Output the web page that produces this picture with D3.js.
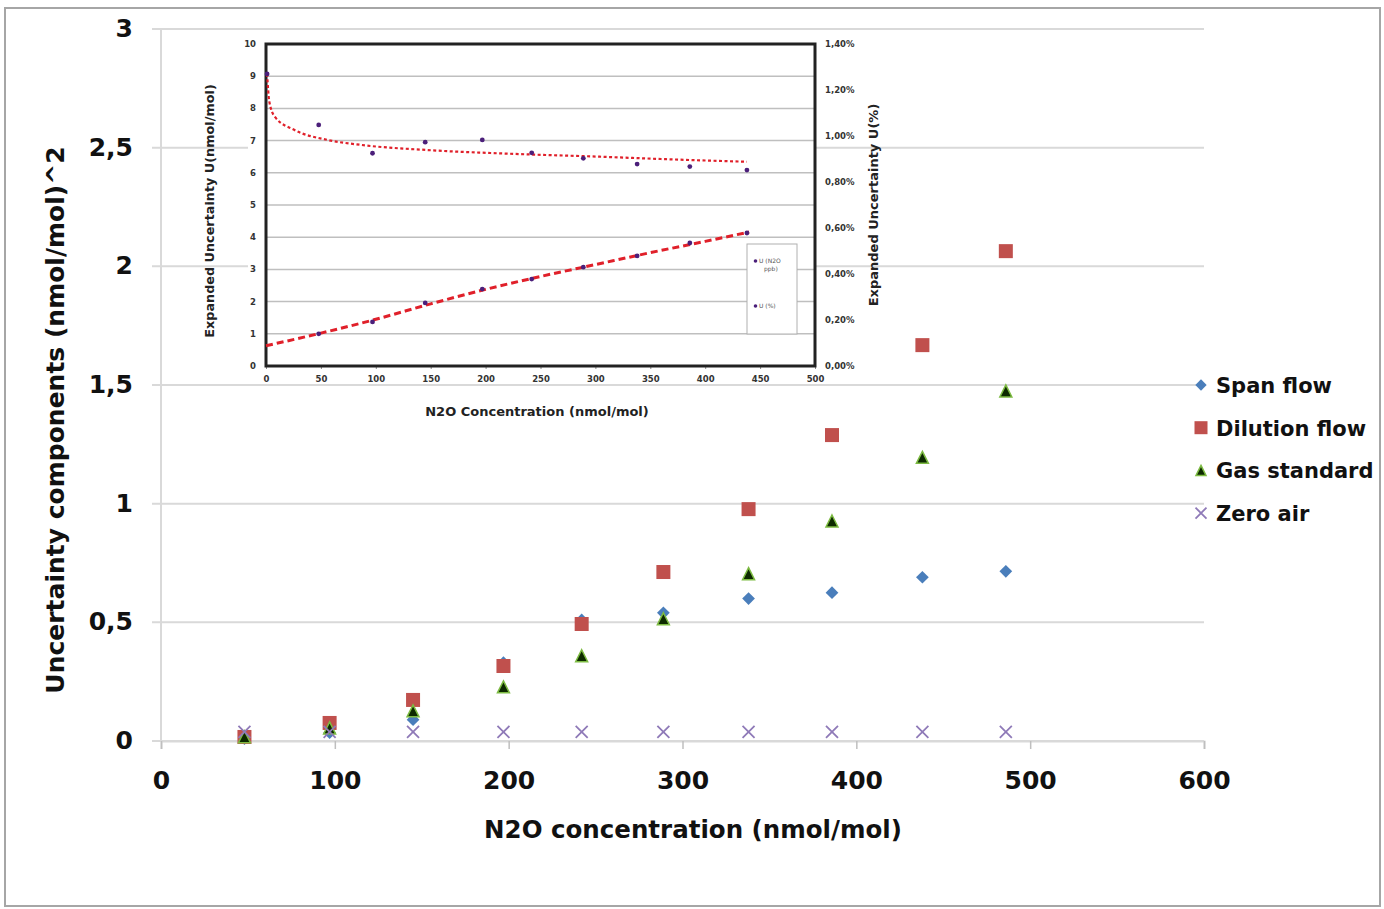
<!DOCTYPE html>
<html>
<head>
<meta charset="utf-8">
<script src="https://cdn.jsdelivr.net/npm/d3@7"></script>
<style>
  body { margin: 0; background: #fff; }
  text { font-family: "DejaVu Sans", Arial, sans-serif; }
</style>
</head>
<body>
<div id="chart"></div>
<script>
// main chart data
var concentration = [48, 97, 145, 197, 242, 289, 338, 386, 438, 486];
var spanFlow = [0.01, 0.035, 0.09, 0.33, 0.51, 0.54, 0.60, 0.625, 0.69, 0.715];
var dilutionFlow = [0.017, 0.076, 0.173, 0.316, 0.493, 0.712, 0.977, 1.289, 1.668, 2.064];
var gasStandard = [0.013, 0.05, 0.122, 0.223, 0.354, 0.51, 0.70, 0.922, 1.19, 1.47];
var zeroAir = [0.038, 0.038, 0.038, 0.038, 0.038, 0.038, 0.038, 0.038, 0.038, 0.038];
var seriesNames = ["Span flow", "Dilution flow", "Gas standard", "Zero air"];
var xTicks = [0, 100, 200, 300, 400, 500, 600];
var yTicks = [0, 0.5, 1, 1.5, 2, 2.5, 3];

// inset data
var insetPpbX = [48, 97, 145, 197, 242, 289, 338, 386, 438];
var insetPpb = [1.0, 1.37, 1.96, 2.39, 2.7, 3.07, 3.42, 3.82, 4.13];
var insetPctX = [1, 48, 97, 145, 197, 242, 289, 338, 386, 438];
var insetPct = [1.27, 1.048, 0.925, 0.973, 0.983, 0.927, 0.903, 0.878, 0.867, 0.852];
var trendPpbX = [0, 50, 100, 150, 200, 250, 300, 350, 400, 440];
var trendPpb = [0.63, 1.02, 1.45, 1.93, 2.38, 2.78, 3.15, 3.52, 3.87, 4.16];
var trendPctX = [1, 3, 8, 26, 56, 87, 147, 227, 304, 365, 438];
var trendPct = [1.27, 1.15, 1.084, 1.026, 0.983, 0.961, 0.939, 0.922, 0.91, 0.899, 0.888];
var insetLegend = [["U (N2O", "ppb)"], ["U (%)"]];

var svgWidth = 1384;
var svgHeight = 909;

var svg = d3.select("#chart")
  .append("svg")
  .attr("width", svgWidth)
  .attr("height", svgHeight);

// outer frame
svg.append("rect")
  .attr("x", 5).attr("y", 8)
  .attr("width", 1375).attr("height", 898)
  .attr("fill", "#fff")
  .attr("stroke", "#a6a6a6")
  .attr("stroke-width", 2);

var x = d3.scaleLinear().domain([0, 600]).range([161, 1204]);
var y = d3.scaleLinear().domain([0, 3]).range([741, 29]);

// gridlines
svg.append("g").selectAll("line")
  .data(yTicks)
  .enter().append("line")
  .attr("x1", 152).attr("x2", 1204)
  .attr("y1", function(d) { return y(d); })
  .attr("y2", function(d) { return y(d); })
  .attr("stroke", "#d9d9d9")
  .attr("stroke-width", 2);

// y axis line
svg.append("line")
  .attr("x1", x(0)).attr("x2", x(0))
  .attr("y1", y(3)).attr("y2", y(0))
  .attr("stroke", "#d9d9d9").attr("stroke-width", 2);

// bottom axis
var bottomAxis = d3.axisBottom(x).tickValues(xTicks).tickSize(8).tickFormat(d3.format("d"));
var gx = svg.append("g")
  .attr("transform", `translate(0, ${y(0)})`)
  .call(bottomAxis);
gx.select(".domain").attr("stroke", "#d9d9d9").attr("stroke-width", 2);
gx.selectAll(".tick line").attr("stroke", "#bfbfbf").attr("stroke-width", 1.5);
gx.selectAll(".tick text")
  .attr("y", 48)
  .attr("dy", 0)
  .attr("font-size", 25)
  .attr("font-weight", "bold")
  .attr("fill", "#111")
  .style("font-family", "'DejaVu Sans', Arial, sans-serif");

// left labels
svg.append("g").selectAll("text")
  .data(yTicks)
  .enter().append("text")
  .attr("x", 133)
  .attr("y", function(d) { return y(d) + 8; })
  .attr("text-anchor", "end")
  .attr("font-size", 25)
  .attr("font-weight", "bold")
  .attr("fill", "#111")
  .text(function(d) { return String(d).replace(".", ","); });

// axis titles
svg.append("text")
  .attr("x", 693).attr("y", 838)
  .attr("text-anchor", "middle")
  .attr("font-size", 24.5)
  .attr("font-weight", "bold")
  .attr("fill", "#111")
  .text("N2O concentration (nmol/mol)");

svg.append("text")
  .attr("transform", "translate(64, 420) rotate(-90)")
  .attr("text-anchor", "middle")
  .attr("font-size", 25)
  .attr("font-weight", "bold")
  .attr("fill", "#111")
  .text("Uncertainty components (nmol/mol)^2");

// ---------------- inset ----------------
var ix = d3.scaleLinear().domain([0, 500]).range([266, 815]);
var iyL = d3.scaleLinear().domain([0, 10]).range([366, 44]);
var iyR = d3.scaleLinear().domain([0, 1.4]).range([366, 44]);

var inset = svg.append("g");
inset.append("rect")
  .attr("x", 248).attr("y", 40)
  .attr("width", 567).attr("height", 326)
  .attr("fill", "#fff");

inset.append("g").selectAll("line")
  .data(d3.range(1, 10))
  .enter().append("line")
  .attr("x1", ix(0)).attr("x2", ix(500))
  .attr("y1", function(d) { return iyL(d); })
  .attr("y2", function(d) { return iyL(d); })
  .attr("stroke", "#bfbfbf").attr("stroke-width", 1.5);

var insetBottom = d3.axisBottom(ix).tickValues(d3.range(0, 501, 50)).tickSize(3).tickFormat(d3.format("d"));
var igx = inset.append("g")
  .attr("transform", `translate(0, ${iyL(0)})`)
  .call(insetBottom);
igx.select(".domain").remove();
igx.selectAll(".tick line").attr("stroke", "#888");
igx.selectAll(".tick text")
  .attr("y", 10).attr("dy", "0.71em")
  .attr("font-size", 8.5).attr("font-weight", "bold").attr("fill", "#333")
  .style("font-family", "'DejaVu Sans', Arial, sans-serif");

inset.append("g").selectAll("text")
  .data(d3.range(0, 11))
  .enter().append("text")
  .attr("x", 256)
  .attr("y", function(d) { return iyL(d) + 3; })
  .attr("text-anchor", "end")
  .attr("font-size", 8.5).attr("font-weight", "bold").attr("fill", "#333")
  .text(function(d) { return d; });

inset.append("g").selectAll("text")
  .data(d3.range(0, 1.41, 0.2))
  .enter().append("text")
  .attr("x", 825)
  .attr("y", function(d) { return iyR(d) + 3; })
  .attr("font-size", 8.5).attr("font-weight", "bold").attr("fill", "#333")
  .text(function(d) { return d.toFixed(2).replace(".", ",") + "%"; });

// inset frame
inset.append("rect")
  .attr("x", ix(0)).attr("y", iyL(10))
  .attr("width", ix(500) - ix(0)).attr("height", iyL(0) - iyL(10))
  .attr("fill", "none")
  .attr("stroke", "#222").attr("stroke-width", 3);

// trend lines
var ppbLine = d3.line()
  .x(function(d) { return ix(d[0]); })
  .y(function(d) { return iyL(d[1]); })
  .curve(d3.curveMonotoneX);
var pctLine = d3.line()
  .x(function(d) { return ix(d[0]); })
  .y(function(d) { return iyR(d[1]); })
  .curve(d3.curveMonotoneX);

inset.append("path")
  .datum(d3.zip(trendPpbX, trendPpb))
  .attr("d", ppbLine)
  .attr("fill", "none")
  .attr("stroke", "#e0202a")
  .attr("stroke-width", 3)
  .attr("stroke-dasharray", "7,4");

inset.append("path")
  .datum(d3.zip(trendPctX, trendPct))
  .attr("d", pctLine)
  .attr("fill", "none")
  .attr("stroke", "#e0202a")
  .attr("stroke-width", 2.2)
  .attr("stroke-dasharray", "3,2.5");

inset.append("g").selectAll("circle")
  .data(d3.zip(insetPpbX, insetPpb))
  .enter().append("circle")
  .attr("cx", function(d) { return ix(d[0]); })
  .attr("cy", function(d) { return iyL(d[1]); })
  .attr("r", 2.4)
  .attr("fill", "#4b1f7a");

inset.append("g").selectAll("circle")
  .data(d3.zip(insetPctX, insetPct))
  .enter().append("circle")
  .attr("cx", function(d) { return ix(d[0]); })
  .attr("cy", function(d) { return iyR(d[1]); })
  .attr("r", 2.4)
  .attr("fill", "#4b1f7a");

// inset legend
var il = inset.append("g");
il.append("rect")
  .attr("x", 747).attr("y", 244)
  .attr("width", 50).attr("height", 90)
  .attr("fill", "#fff")
  .attr("stroke", "#b0b0b0").attr("stroke-width", 1);
insetLegend.forEach(function(lines, i) {
  var ly = i === 0 ? 261 : 306;
  il.append("circle").attr("cx", 755.5).attr("cy", ly).attr("r", 1.8).attr("fill", "#4b1f7a");
  lines.forEach(function(t, j) {
    il.append("text")
      .attr("x", j === 0 ? 759 : 764)
      .attr("y", ly + 2 + j * 8)
      .attr("font-size", 6)
      .attr("fill", "#555")
      .text(t);
  });
});

// inset axis titles
inset.append("text")
  .attr("x", 537).attr("y", 416)
  .attr("text-anchor", "middle")
  .attr("font-size", 13).attr("font-weight", "bold").attr("fill", "#222")
  .text("N2O Concentration (nmol/mol)");
inset.append("text")
  .attr("transform", "translate(214, 211) rotate(-90)")
  .attr("text-anchor", "middle")
  .attr("font-size", 12.8).attr("font-weight", "bold").attr("fill", "#222")
  .text("Expanded Uncertainty U(nmol/mol)");
inset.append("text")
  .attr("transform", "translate(878, 205) rotate(-90)")
  .attr("text-anchor", "middle")
  .attr("font-size", 13).attr("font-weight", "bold").attr("fill", "#222")
  .text("Expanded Uncertainty U(%)");

// ---------------- main markers ----------------
function diamond(g, cx, cy, s) {
  return g.append("rect")
    .attr("x", -s / 2).attr("y", -s / 2)
    .attr("width", s).attr("height", s)
    .attr("transform", `translate(${cx},${cy}) rotate(45)`)
    .attr("fill", "#4a7ebb");
}
function square(g, cx, cy, s) {
  return g.append("rect")
    .attr("x", cx - s / 2).attr("y", cy - s / 2)
    .attr("width", s).attr("height", s)
    .attr("fill", "#c0504d");
}
function triangle(g, cx, cy, s) {
  return g.append("path")
    .attr("d", `M${cx},${cy - s * 0.6}L${cx + s / 2},${cy + s * 0.4}L${cx - s / 2},${cy + s * 0.4}Z`)
    .attr("fill", "#0d2a00")
    .attr("stroke", "#7dbb42")
    .attr("stroke-width", 1.5);
}
function cross(g, cx, cy, s) {
  return g.append("path")
    .attr("d", `M${cx - s / 2},${cy - s / 2}L${cx + s / 2},${cy + s / 2}M${cx + s / 2},${cy - s / 2}L${cx - s / 2},${cy + s / 2}`)
    .attr("stroke", "#8f7ab8")
    .attr("stroke-width", 1.8)
    .attr("fill", "none");
}

var markers = svg.append("g");
var allSeries = [spanFlow, dilutionFlow, gasStandard, zeroAir];
var drawers = [
  function(cx, cy) { diamond(markers, cx, cy, 9); },
  function(cx, cy) { square(markers, cx, cy, 14); },
  function(cx, cy) { triangle(markers, cx, cy, 12); },
  function(cx, cy) { cross(markers, cx, cy, 12); }
];
allSeries.forEach(function(vals, s) {
  vals.forEach(function(v, i) {
    drawers[s](x(concentration[i]), y(v));
  });
});

// legend
var legend = svg.append("g");
seriesNames.forEach(function(name, i) {
  var ly = 385 + i * 42.7;
  if (i === 0) diamond(legend, 1201, ly, 8);
  if (i === 1) square(legend, 1201, ly, 13);
  if (i === 2) triangle(legend, 1201, ly + 1, 10);
  if (i === 3) cross(legend, 1201, ly, 11);
  legend.append("text")
    .attr("x", 1216).attr("y", ly + 8)
    .attr("font-size", 21)
    .attr("font-weight", "bold")
    .attr("fill", "#111")
    .text(name);
});
</script>
</body>
</html>
